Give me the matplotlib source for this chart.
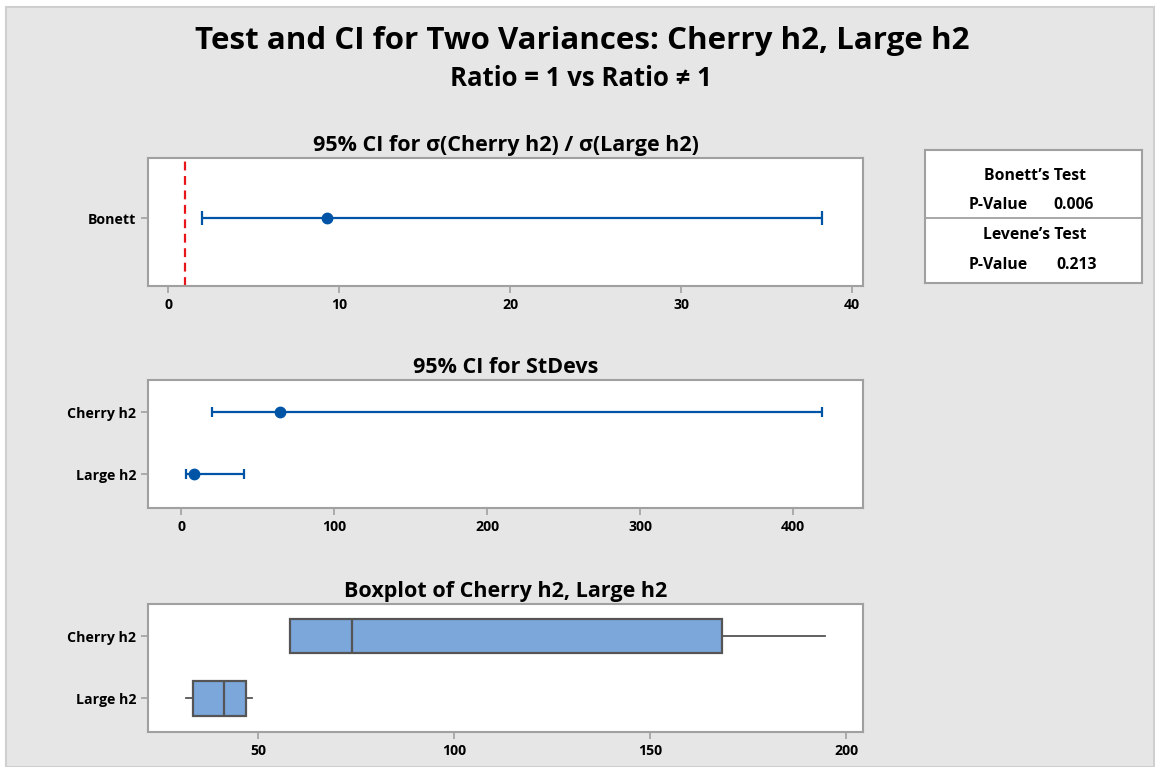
import numpy as np
import matplotlib.pyplot as plt
from matplotlib.patches import Rectangle

plt.rcParams['font.family'] = ['Open Sans', 'DejaVu Sans']

# Bonett ratio CI
ratio_label = ['Bonett']
ratio_est = [9.3]
ratio_lo = [2.0]
ratio_hi = [38.25]
ratio_ref = 1.0

# CI for StDevs
groups = ['Cherry h2', 'Large h2']
sd_est = [64.7, 8.5]
sd_lo = [20.3, 3.3]
sd_hi = [419.0, 41.2]

# boxplot stats (min, q1, median, q3, max)
box_min = [58.2, 31.6]
box_q1 = [58.2, 33.4]
box_med = [74.0, 41.3]
box_q3 = [168.4, 46.9]
box_max = [194.7, 48.5]

bonett_p = '0.006'
levene_p = '0.213'

W, H = 1155, 767
fig = plt.figure(figsize=(W / 100, H / 100), dpi=100)
fig.patch.set_facecolor('white')
fig.patches.append(Rectangle((6 / W, 0), 1 - 7 / W, 1 - 7 / H, transform=fig.transFigure,
                             facecolor='#e6e6e6', edgecolor='#cfcfcf', lw=1.5, zorder=-10))

fig.text(582 / W, 1 - 41 / H, 'Test and CI for Two Variances: Cherry h2, Large h2',
         ha='center', va='center', fontsize=22.5, fontweight='bold')
fig.text(581 / W, 1 - 79 / H, 'Ratio = 1 vs Ratio \u2260 1',
         ha='center', va='center', fontsize=18.5, fontweight='bold')

blue = '#0054a6'
frame = '#a0a0a0'


def make_ax(top, title):
    ax = fig.add_axes([148 / W, 1 - (top + 128) / H, 715 / W, 128 / H])
    ax.set_facecolor('white')
    for s in ax.spines.values():
        s.set_color(frame)
        s.set_linewidth(1.5)
    ax.tick_params(colors=frame, labelcolor='black', length=5, width=1.2, labelsize=10.2)
    ax.set_title(title, fontsize=15.5, fontweight='bold', pad=5)
    return ax


def bold_ticks(ax):
    for lab in ax.get_xticklabels() + ax.get_yticklabels():
        lab.set_fontweight('bold')


# top panel
ax1 = make_ax(158, '95% CI for \u03c3(Cherry h2) / \u03c3(Large h2)')
ax1.set_xlim(-1.17, 40.64)
ax1.set_ylim(-0.0625, 1.9375)
ax1.axvline(ratio_ref, color='#e8161b', ls='--', lw=1.6, dashes=(4, 2.5))
ax1.errorbar(ratio_est, [1], xerr=[[ratio_est[0] - ratio_lo[0]], [ratio_hi[0] - ratio_est[0]]],
             fmt='o', color=blue, ms=7.5, lw=1.6, capsize=5, capthick=1.6)
ax1.set_yticks([1])
ax1.set_yticklabels(ratio_label)
ax1.set_xticks([0, 10, 20, 30, 40])
bold_ticks(ax1)

# middle panel
ax2 = make_ax(380, '95% CI for StDevs')
ax2.set_xlim(-21.6, 445.8)
ax2.set_ylim(0.48, 2.54)
ax2.invert_yaxis()
ypos = [1, 2]
est = np.array(sd_est)
ax2.errorbar(sd_est, ypos, xerr=[est - np.array(sd_lo), np.array(sd_hi) - est],
             fmt='o', color=blue, ms=7.5, lw=1.6, capsize=3.5, capthick=1.6, ls='none')
ax2.set_yticks(ypos)
ax2.set_yticklabels(groups)
ax2.set_xticks([0, 100, 200, 300, 400])
bold_ticks(ax2)

# bottom panel
ax3 = make_ax(604, 'Boxplot of Cherry h2, Large h2')
ax3.set_xlim(22, 204.3)
ax3.set_ylim(0.48, 2.54)
ax3.invert_yaxis()
stats = []
for i, g in enumerate(groups):
    stats.append({'label': g, 'whislo': box_min[i], 'q1': box_q1[i], 'med': box_med[i],
                  'q3': box_q3[i], 'whishi': box_max[i], 'fliers': []})
ax3.bxp(stats, positions=ypos, vert=False, widths=0.55, patch_artist=True, showcaps=False,
        boxprops=dict(facecolor='#7ba7da', edgecolor='#555555', lw=1.6),
        medianprops=dict(color='#555555', lw=1.6),
        whiskerprops=dict(color='#555555', lw=1.3))
ax3.set_yticks(ypos)
ax3.set_yticklabels(groups)
ax3.set_xticks([50, 100, 150, 200])
bold_ticks(ax3)

# p-value table
tab = fig.add_axes([925 / W, 1 - 283 / H, 217 / W, 133 / H])
tab.set_xlim(0, 217)
tab.set_ylim(133, 0)
tab.set_xticks([])
tab.set_yticks([])
for s in tab.spines.values():
    s.set_color(frame)
    s.set_linewidth(1.5)
tab.axhline(68, color=frame, lw=1.3)
fs = 11.3
tab.text(110, 26, "Bonett\u2019s Test", ha='center', va='center', fontsize=fs, fontweight='bold')
tab.text(44, 55, 'P-Value', ha='left', va='center', fontsize=fs, fontweight='bold')
tab.text(128, 55, bonett_p, ha='left', va='center', fontsize=fs, fontweight='bold')
tab.text(110, 85, "Levene\u2019s Test", ha='center', va='center', fontsize=fs, fontweight='bold')
tab.text(44, 115, 'P-Value', ha='left', va='center', fontsize=fs, fontweight='bold')
tab.text(131, 115, levene_p, ha='left', va='center', fontsize=fs, fontweight='bold')

fig.savefig('out.png', dpi=100)
